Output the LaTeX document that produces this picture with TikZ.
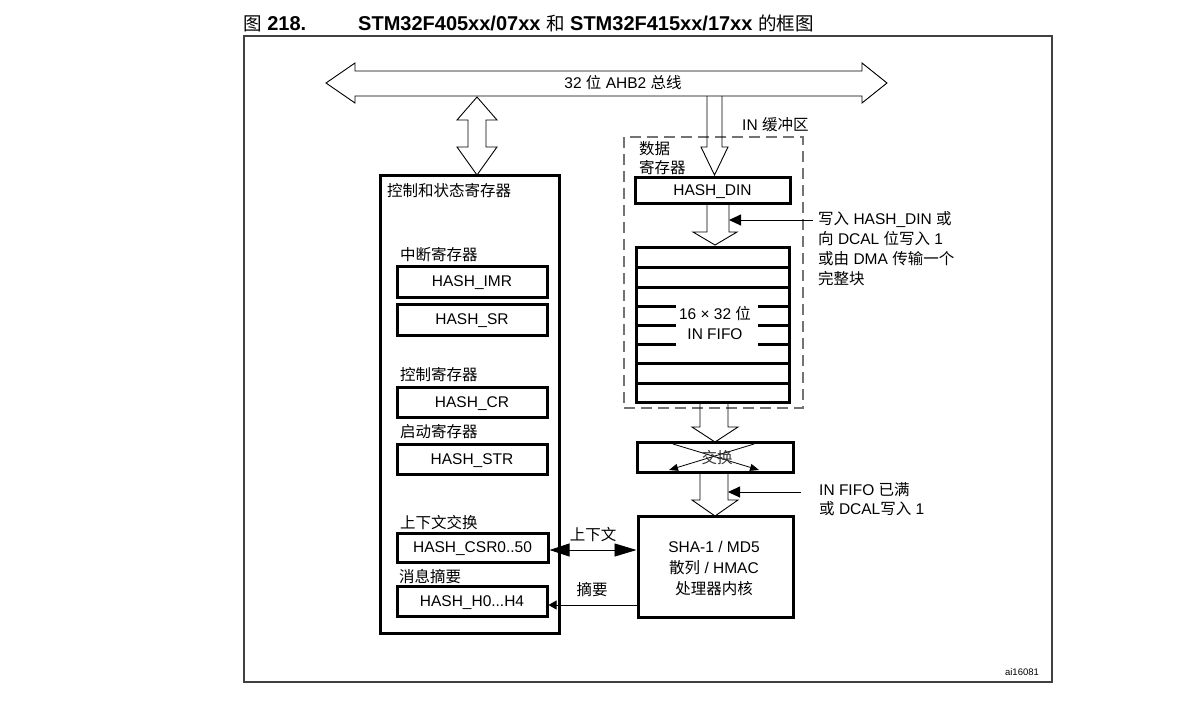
\documentclass[tikz,border=0pt]{standalone}
\usepackage{fontspec}
\setmainfont{Liberation Sans}
\newfontfamily\cjkfont{Noto Sans CJK SC}
\newcommand\zh[1]{{\cjkfont #1}}
\newcommand\zhT[1]{{\cjkfont\fontsize{18.5}{22}\selectfont #1}}
\usetikzlibrary{arrows.meta}
\begin{document}
\begin{tikzpicture}[x=1pt,y=-1pt,
  every node/.style={inner sep=0pt},
  txt/.style={font=\fontsize{15.5}{20}\selectfont},
  reg/.style={draw, line width=3pt, minimum width=150pt, minimum height=30pt, text height=10pt, text depth=0pt, font=\fontsize{15.5}{18}\selectfont},
  thickbox/.style={draw, line width=3pt},
  hollow/.style={draw, line width=0.9pt, line join=miter},
  tip/.style={line width=0.9pt, -{Triangle[length=12pt,width=11pt]}},
]
\useasboundingbox (0,0) rectangle (1186,705);

% title
\node[anchor=base west, font=\fontsize{20}{22}\selectfont] (fig) at (243,30) {\zhT{图} \textbf{218.}};
\node[anchor=base west, font=\fontsize{20}{22}\selectfont] (title) at (358,30) {\textbf{STM32F405xx/07xx} \zhT{和} \textbf{STM32F415xx/17xx} \zhT{的框图}};

% outer frame
\node[draw, line width=1.2pt, black!75, minimum width=808pt, minimum height=646pt] (frame) at (648,359) {};

% bus
\draw[hollow] (326,83) -- (355,63) -- (355,71) -- (862,71) -- (862,63) -- (887,83) -- (862,103) -- (862,96) -- (355,96) -- (355,103) -- cycle;
\node[txt] (bus) at (623,83) {32 \zh{位} AHB2 \zh{总线}};

% left block
\node[thickbox, minimum width=179pt, minimum height=458pt] (ctl) at (469.5,404) {};
\draw[hollow] (477,97) -- (497,120) -- (486,120) -- (486,147) -- (497,147) -- (477,175) -- (457,147) -- (468,147) -- (468,120) -- (457,120) -- cycle;
\node[txt, anchor=west] (ctltitle) at (387,191) {\zh{控制和状态寄存器}};

\node[txt, anchor=west] (l1) at (400,255) {\zh{中断寄存器}};
\node[reg, minimum height=31pt] (imr) at (472,281.5) {HASH\_IMR};
\node[reg, minimum height=31pt] (sr) at (472,319.5) {HASH\_SR};
\node[txt, anchor=west] (l2) at (400,375) {\zh{控制寄存器}};
\node[reg] (cr) at (472,402) {HASH\_CR};
\node[txt, anchor=west] (l3) at (400,432) {\zh{启动寄存器}};
\node[reg] (str) at (472,459) {HASH\_STR};
\node[txt, anchor=west] (l4) at (400,523) {\zh{上下文交换}};
\node[reg, minimum width=151pt, minimum height=29pt] (csr) at (472.5,547.5) {HASH\_CSR0..50};
\node[txt, anchor=west] (l5) at (399,577) {\zh{消息摘要}};
\node[reg] (hh) at (472,601) {HASH\_H0...H4};

% IN buffer
\node[draw, dashed, dash pattern=on 11pt off 6pt, line width=1.3pt, black!55, minimum width=179pt, minimum height=271pt] (buf) at (713.5,272.5) {};
\node[txt, anchor=west] (buflbl) at (742,125) {IN \zh{缓冲区}};
\node[txt, anchor=west, align=left, font=\fontsize{15.5}{19}\selectfont] (dreg) at (639,158.5) {\zh{数据}\\\zh{寄存器}};
\draw[hollow] (707,96) -- (707,147) -- (701,147) -- (714.5,175) -- (728,147) -- (722,147) -- (722,96);
\node[reg, minimum width=155pt, minimum height=26pt] (din) at (712.5,190) {HASH\_DIN};

\draw[hollow] (707,203) -- (707,232) -- (693,232) -- (715,245) -- (737,232) -- (729,232) -- (729,203);
\coordinate (t1) at (813,220);
\coordinate (t1end) at (729,220);
\draw[tip] (t1) -- (t1end);
\node[txt, anchor=west, align=left, font=\fontsize{15.5}{20.2}\selectfont] (trig1) at (818,248.5) {\zh{写入} HASH\_DIN \zh{或}\\\zh{向} DCAL \zh{位写入} 1\\\zh{或由} DMA \zh{传输一个}\\\zh{完整块}};

% FIFO
\node[thickbox, minimum width=153pt, minimum height=155pt] (fifo) at (712.5,324.5) {};
\foreach \yy in {267,287,363.5,383} \draw[line width=3pt] (636,\yy) -- (789,\yy);
\foreach \yy in {306.5,325,344} {
  \draw[line width=3pt] (636,\yy) -- (676,\yy);
  \draw[line width=3pt] (758,\yy) -- (789,\yy);
}
\node[txt, align=center, font=\fontsize{15.5}{20}\selectfont] (fifotxt) at (715,323) {16 × 32 \zh{位}\\IN FIFO};

% FIFO -> swap
\draw[hollow] (700,402) -- (700,427) -- (692,427) -- (715,442) -- (738,427) -- (728,427) -- (728,402);

% swap
\node[thickbox, minimum width=156pt, minimum height=30pt] (swap) at (715,457) {};
\draw[line width=0.8pt, -{Triangle[length=9pt,width=7pt]}] (673,444) -- (759,470);
\draw[line width=0.8pt, -{Triangle[length=9pt,width=7pt]}] (754,444) -- (669,470);
\node[txt, text=black!80] (swaptxt) at (717,458) {\zh{交换}};

% swap -> core
\draw[hollow] (700,472) -- (700,500) -- (692,500) -- (715,516) -- (738,500) -- (728,500) -- (728,472);
\coordinate (t2) at (801,492);
\coordinate (t2end) at (728,492);
\draw[tip] (t2) -- (t2end);
\node[txt, anchor=west, align=left, font=\fontsize{15.5}{19}\selectfont] (trig2) at (819,499) {IN FIFO \zh{已满}\\\zh{或} DCAL\zh{写入} 1};

% core
\node[thickbox, minimum width=155pt, minimum height=101pt] (core) at (715.5,566.5) {};
\node[align=center, font=\fontsize{15.5}{21}\selectfont] (coretxt) at (714,569) {SHA-1 / MD5\\\zh{散列} / HMAC\\\zh{处理器内核}};

% context and digest
\coordinate (cx) at ([yshift=-2.5pt]csr.east);
\draw[line width=0.9pt, {Triangle[length=20pt,width=13pt]}-{Triangle[length=22pt,width=13pt]}] (cx) -- (cx -| core.west);
\node[txt] (ctxlbl) at (593,535) {\zh{上下文}};
\coordinate (dg) at ([yshift=-4pt]hh.east);
\draw[line width=0.9pt, -{Triangle[length=8pt,width=9pt]}] (dg -| core.west) -- (dg);
\node[txt] (dglbl) at (592,590) {\zh{摘要}};

\node[font=\fontsize{9.5}{11}\selectfont] (ai) at (1022,672) {ai16081};
\end{tikzpicture}
\end{document}
